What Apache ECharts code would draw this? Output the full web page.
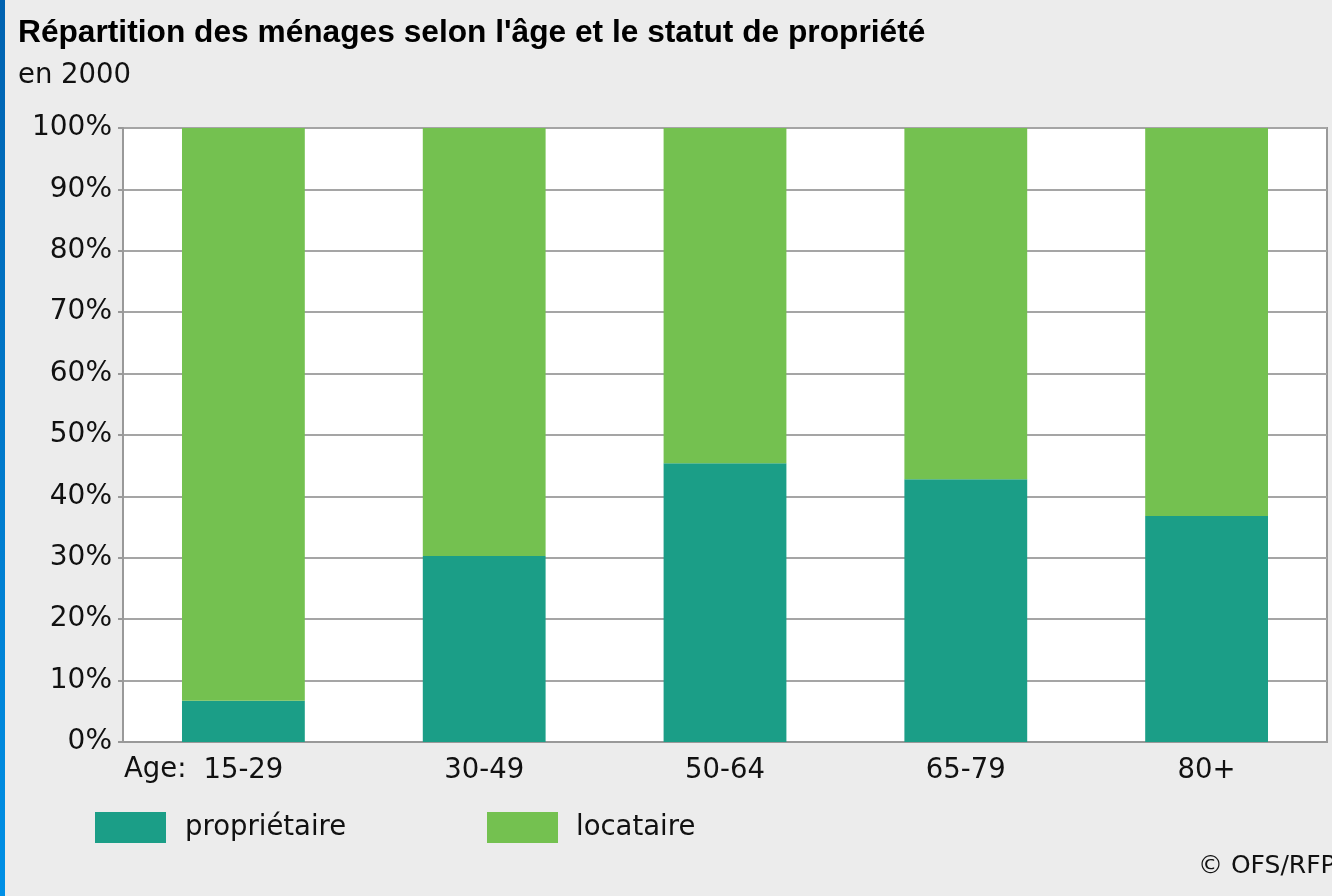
<!DOCTYPE html>
<html>
<head>
<meta charset="utf-8">
<style>
  html, body { margin: 0; padding: 0; background: #ececec; }
  #chart { width: 1332px; height: 896px; }
</style>
<script src="https://cdn.jsdelivr.net/npm/echarts@6/dist/echarts.min.js"></script>
</head>
<body>
<div id="chart"></div>
<script>
  // catégories d'âge
  var categories = ['15-29', '30-49', '50-64', '65-79', '80+']
  // part des ménages (%)
  var proprietaire = [6.7, 30.3, 45.4, 42.8, 36.8]
  var locataire = [93.3, 69.7, 54.6, 57.2, 63.2]
  var yTicks = [0, 10, 20, 30, 40, 50, 60, 70, 80, 90, 100]

  var labelFont = 'DejaVu Sans'
  var chart = echarts.init(document.getElementById('chart'))

  chart.setOption({
    backgroundColor: '#ececec',
    animation: false,
    color: ['#1b9e87', '#74c150'],
    title: {
      text: 'Répartition des ménages selon l\'âge et le statut de propriété',
      subtext: 'en 2000',
      left: 13,
      top: 12,
      itemGap: 13,
      textStyle: {
        fontFamily: 'Liberation Sans',
        fontWeight: 'bold',
        fontSize: 31.7,
        color: '#000'
      },
      subtextStyle: {
        fontFamily: labelFont,
        fontSize: 27.5,
        color: '#111'
      }
    },
    legend: [
      {
        data: ['propriétaire'],
        left: 95,
        top: 812,
        padding: 0,
        itemWidth: 71,
        itemHeight: 31,
        icon: 'rect',
        selectedMode: false,
        textStyle: {fontFamily: labelFont, fontSize: 27.5, color: '#111', padding: [0, 0, 0, 14]}
      },
      {
        data: ['locataire'],
        left: 487,
        top: 812,
        padding: 0,
        itemWidth: 71,
        itemHeight: 31,
        icon: 'rect',
        selectedMode: false,
        textStyle: {fontFamily: labelFont, fontSize: 27.5, color: '#111', padding: [0, 0, 0, 13]}
      }
    ],
    grid: {
      left: 123,
      right: 5,
      top: 128,
      bottom: 154,
      show: true,
      backgroundColor: '#fff',
      borderColor: '#999',
      borderWidth: 2
    },
    xAxis: {
      type: 'category',
      data: categories,
      axisLine: {lineStyle: {color: '#999', width: 2}},
      axisTick: {show: false},
      axisLabel: {
        fontFamily: labelFont,
        fontSize: 27.5,
        color: '#111',
        margin: 15
      }
    },
    yAxis: {
      type: 'value',
      min: 0,
      max: 100,
      interval: 10,
      axisLine: {show: true, lineStyle: {color: '#999', width: 2}},
      axisTick: {show: true, length: 5, lineStyle: {color: '#999', width: 2}},
      axisLabel: {
        fontFamily: labelFont,
        fontSize: 28,
        color: '#111',
        margin: 11,
        padding: [4, 0, 0, 0],
        formatter: function (v) {
          return yTicks.indexOf(v) >= 0 ? v + '%' : ''
        }
      },
      splitLine: {show: true, lineStyle: {color: '#a5a5a5', width: 2}}
    },
    graphic: [
      {
        type: 'rect',
        left: 0,
        top: 0,
        shape: {width: 5, height: 896},
        style: {
          fill: new echarts.graphic.LinearGradient(0, 0, 0, 1, [
            {offset: 0, color: '#0062b0'},
            {offset: 1, color: '#0090e6'}
          ])
        }
      },
      {
        type: 'text',
        left: 124,
        top: 756,
        style: {text: 'Age:', font: '27.5px "DejaVu Sans"', fill: '#111'}
      },
      {
        type: 'text',
        left: 1198,
        top: 854,
        style: {text: '© OFS/RFP', font: '25px "DejaVu Sans"', fill: '#111'}
      }
    ],
    series: [
      {
        name: 'propriétaire',
        type: 'bar',
        stack: 'total',
        barWidth: '51%',
        data: proprietaire
      },
      {
        name: 'locataire',
        type: 'bar',
        stack: 'total',
        barWidth: '51%',
        data: locataire
      }
    ]
  })
</script>
</body>
</html>
